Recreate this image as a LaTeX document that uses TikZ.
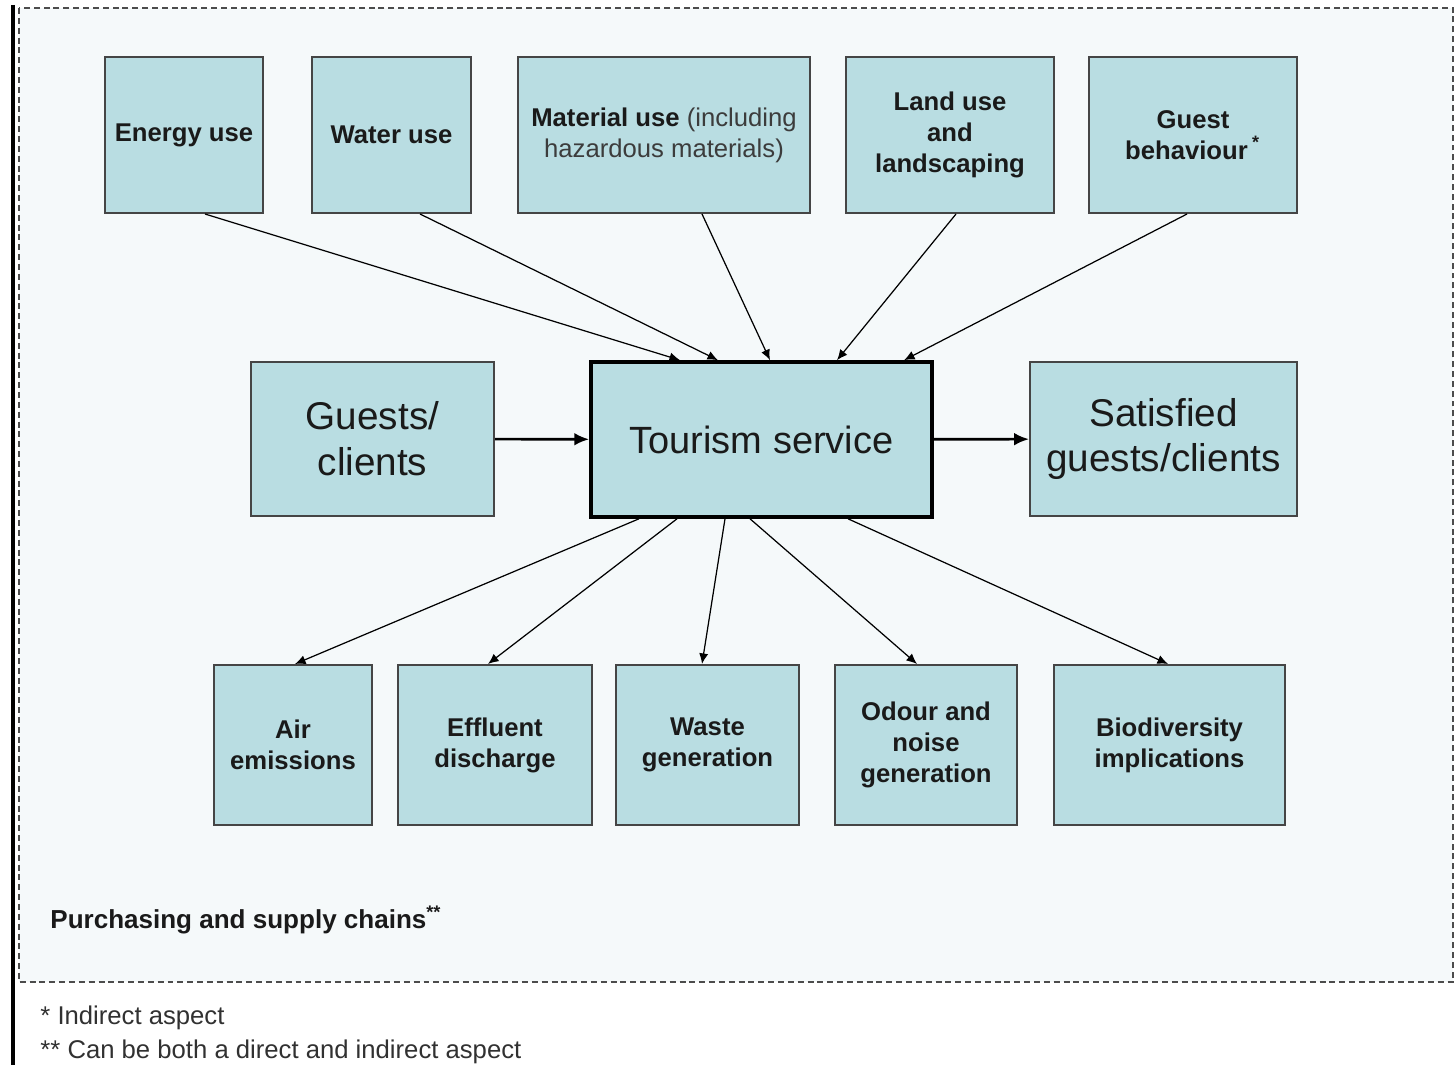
\documentclass[tikz,border=0pt]{standalone}
\usepackage{fontspec}
\setmainfont{Liberation Sans}
\usepackage{xcolor}
\usetikzlibrary{arrows.meta,calc}

\definecolor{boxfill}{HTML}{B9DDE2}
\definecolor{boxline}{HTML}{454545}
\definecolor{panelbg}{HTML}{F5F9FA}
\definecolor{inktext}{HTML}{1A1A1A}

\tikzset{
  aspect/.style={draw=boxline,line width=0.55pt,fill=boxfill,inner sep=0pt,
    align=center,text=inktext,font=\bfseries\fontsize{7.3}{8.8}\selectfont},
  flowbox/.style={draw=boxline,line width=0.55pt,fill=boxfill,inner sep=0pt,
    align=center,text=inktext,font=\fontsize{11}{13}\selectfont},
  link/.style={line width=0.35pt,-{Latex[length=3pt,width=2.6pt]}},
  flow/.style={line width=0.75pt,-{Latex[length=4.2pt,width=3.6pt]}}
}

\begin{document}
\begin{tikzpicture}[x=0.01cm,y=-0.01cm]
\useasboundingbox (0,0) rectangle (1455,1065);
% panel
\fill[panelbg] (19,8) rectangle (1453,982);
\draw[gray!60!black,line width=0.45pt,dash pattern=on 1.7pt off 1.1pt] (19,8) rectangle (1453,982);
\draw[black,line width=0.9pt] (13,5) -- (13,1065);

% inputs
\node[aspect,minimum width=1.58cm,minimum height=1.56cm] (energy) at (184,135) {Energy use};
\node[aspect,minimum width=1.59cm,minimum height=1.56cm] (water) at (391.5,135) {Water use};
\node[aspect,minimum width=2.92cm,minimum height=1.56cm] (material) at (664,135)
  {Material use \mdseries\color{inktext!85}(including\\ \mdseries\color{inktext!85}hazardous materials)};
\node[aspect,minimum width=2.08cm,minimum height=1.56cm] (land) at (950,135) {Land use\\and\\landscaping};
\node[aspect,minimum width=2.08cm,minimum height=1.56cm] (guest) at (1193,135) {Guest\\behaviour\,\textsuperscript{*}};

% main row
\node[flowbox,minimum width=2.43cm,minimum height=1.54cm] (clients) at (372.5,439) {Guests/\\clients};
\node[flowbox,draw=black,line width=1pt,minimum width=3.41cm,minimum height=1.55cm,
  font=\fontsize{10.8}{13}\selectfont] (service) at (761.5,439.5) {Tourism service};
\node[flowbox,minimum width=2.67cm,minimum height=1.54cm] (satisfied) at (1163.5,439) {Satisfied\\guests/clients};

% outputs
\node[aspect,minimum width=1.58cm,minimum height=1.6cm] (air) at (293,745) {Air\\emissions};
\node[aspect,minimum width=1.94cm,minimum height=1.6cm] (effluent) at (495,745) {Effluent\\discharge};
\node[aspect,minimum width=1.83cm,minimum height=1.6cm] (waste) at (707.5,745) {Waste\\generation};
\node[aspect,minimum width=1.82cm,minimum height=1.6cm] (odour) at (926,745) {Odour and\\noise\\generation};
\node[aspect,minimum width=2.31cm,minimum height=1.6cm] (biodiv) at (1169.5,745) {Biodiversity\\implications};

% notes
\node[anchor=west,text=inktext,font=\bfseries\fontsize{7.4}{9}\selectfont] (supply) at (38,920)
  {Purchasing and supply chains\textsuperscript{**}};
\node[anchor=west,text=inktext!90,font=\fontsize{7.3}{9}\selectfont] (note1) at (28,1018) {* Indirect aspect};
\node[anchor=west,text=inktext!90,font=\fontsize{7.3}{9}\selectfont] (note2) at (28,1052) {** Can be both a direct and indirect aspect};

% arrows in
\draw[link] ($(energy.south)+(21,0)$) -- ($(service.north)+(-81.5,0)$);
\draw[link] ($(water.south)+(28.5,0)$) -- ($(service.north)+(-43.5,0)$);
\draw[link] ($(material.south)+(38,0)$) -- ($(service.north)+(8.5,0)$);
\draw[link] ($(land.south)+(6,0)$) -- ($(service.north)+(75.5,0)$);
\draw[link] ($(guest.south)+(-6,0)$) -- ($(service.north)+(142.5,0)$);
\draw[flow] (clients) -- (service);
\draw[flow] (service) -- (satisfied);
% arrows out
\draw[link] ($(service.south)+(-122.5,0)$) -- ($(air.north)+(2,0)$);
\draw[link] ($(service.south)+(-84.5,0)$) -- ($(effluent.north)+(-7,0)$);
\draw[link] ($(service.south)+(-36.5,0)$) -- ($(waste.north)+(-5.5,0)$);
\draw[link] ($(service.south)+(-11.5,0)$) -- ($(odour.north)+(-9,0)$);
\draw[link] ($(service.south)+(86.5,0)$) -- ($(biodiv.north)+(-1.5,0)$);
\end{tikzpicture}
\end{document}
